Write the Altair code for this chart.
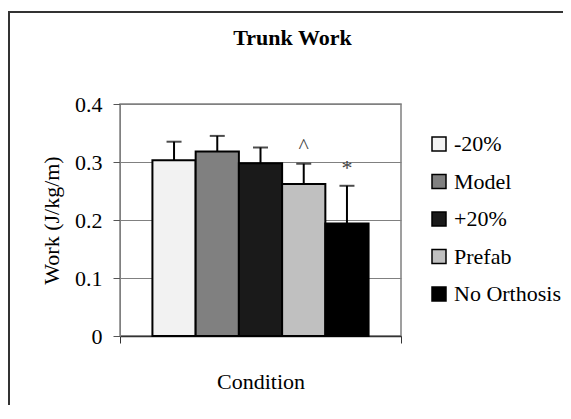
import altair as alt
import pandas as pd

series = ["-20%", "Model", "+20%", "Prefab", "No Orthosis"]
means = [0.303, 0.318, 0.298, 0.262, 0.194]
errors = [0.032, 0.027, 0.027, 0.035, 0.065]
marks = ["", "", "", "^", "*"]
fills = ["#f2f2f2", "#808080", "#1a1a1a", "#c0c0c0", "#000000"]
y_ticks = [0, 0.1, 0.2, 0.3, 0.4]

df = pd.DataFrame({
    "cond": ["Condition"] * len(series),
    "series": series,
    "mean": means,
    "top": [m + e for m, e in zip(means, errors)],
    "mark": marks,
})

FONT = "Liberation Serif"
FS = 22

x_enc = alt.X("cond:N", scale=alt.Scale(paddingInner=0, paddingOuter=0),
              axis=alt.Axis(labels=False, tickBand="extent", ticks=True, tickSize=7,
                            tickColor="#333333", domainColor="#333333", domainWidth=1.5,
                            title="Condition", titlePadding=28,
                            titleFontSize=FS, titleFontWeight="normal", titleColor="black"))
xo_enc = alt.XOffset("series:N", sort=series,
                     scale=alt.Scale(paddingInner=0, paddingOuter=0.75))
y_scale = alt.Scale(domain=[0, 0.4], nice=False)

base = alt.Chart(df)

bars = base.mark_bar(stroke="black", strokeWidth=2).encode(
    x=x_enc,
    xOffset=xo_enc,
    y=alt.Y("mean:Q", scale=y_scale,
            axis=alt.Axis(values=y_ticks, format="~g", tickSize=7, tickColor="#555555",
                          domainColor="#808080", gridColor="#808080", grid=True,
                          labelFontSize=FS, labelColor="black", labelPadding=11,
                          title="Work (J/kg/m)", titleFontSize=FS,
                          titleFontWeight="normal", titleColor="black", titlePadding=11)),
    fill=alt.Fill("series:N", sort=series,
                  scale=alt.Scale(domain=series, range=fills),
                  legend=alt.Legend(title=None, orient="none", legendX=308, legendY=29,
                                    padding=0, rowPadding=15.5, symbolType="square",
                                    symbolSize=196, symbolStrokeColor="black",
                                    symbolStrokeWidth=1.5, labelFontSize=FS,
                                    labelColor="black", labelOffset=4, labelLimit=200)),
)

err = base.mark_rule(color="black", strokeWidth=2).encode(
    x="cond:N", xOffset=xo_enc,
    y=alt.Y("mean:Q", scale=y_scale), y2="top:Q",
)

caps = base.mark_tick(color="black", thickness=2, size=15, orient="horizontal").encode(
    x="cond:N", xOffset=xo_enc,
    y=alt.Y("top:Q", scale=y_scale),
)

notes = base.mark_text(fontSize=FS, color="#444444", dy=-11,
                       baseline="alphabetic").encode(
    x="cond:N", xOffset=xo_enc,
    y=alt.Y("top:Q", scale=y_scale),
    text="mark:N",
)

frame = alt.Chart(pd.DataFrame({"k": [0]})).mark_rect(
    fill=None, stroke="#333333", strokeWidth=2
).encode(x=alt.value(-111), x2=alt.value(700), y=alt.value(-92), y2=alt.value(600))

chart = alt.layer(frame, bars, err, caps, notes).properties(
    width=281, height=232,
    title=alt.Title("Trunk Work", fontSize=22, fontWeight="bold",
                    color="black", anchor="middle", dx=32, offset=-56,
                    baseline="alphabetic"),
    autosize=alt.AutoSizeParams(type="none"),
    padding={"left": 112, "top": 96, "right": 162, "bottom": 69},
).configure(
    background="white", font=FONT
).configure_axis(
    labelFont=FONT, titleFont=FONT
).configure_legend(
    labelFont=FONT
).configure_title(
    font=FONT
).configure_text(
    font=FONT
).configure_view(stroke="#808080", strokeWidth=1.5)

chart.save("out.html", embed_options={"renderer": "svg", "actions": False})
